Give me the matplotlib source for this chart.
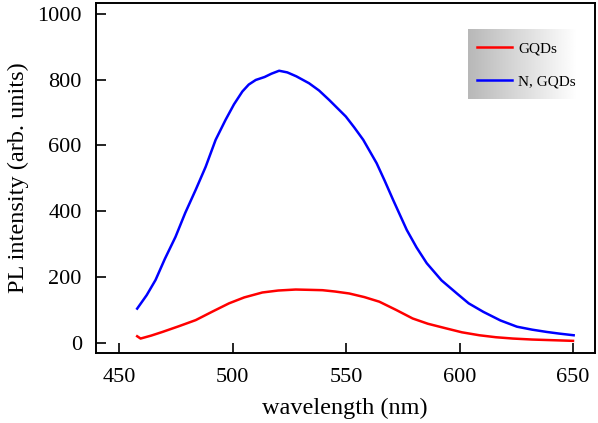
import numpy as np
import matplotlib
matplotlib.use("Agg")
import matplotlib.pyplot as plt

plt.rcParams['font.family'] = ['Liberation Serif', 'DejaVu Serif']

# values
wl_n = [457.8, 462, 465.9, 470, 474.7, 479, 483.6, 488, 492.4, 496.8, 500.5, 504.2,
        507, 510.1, 514, 517, 520.4, 524, 528, 533.6, 538, 542.5, 546, 549.8, 553.5,
        557.5, 563.4, 567, 570.7, 576.7, 581, 585.5, 592, 598.8, 604, 610.5, 618,
        625.3, 632, 638.5, 644, 650.3]
pl_n = [104, 145, 191, 255, 322, 395, 465, 535, 617, 678, 725, 764,
        785, 799, 808, 818, 827, 822, 810, 789, 767, 738, 714, 688, 655,
        617, 546, 492, 434, 343, 290, 242, 190, 150, 120, 94, 68,
        49, 40, 33, 28, 23]

wl_g = [457.8, 459.3, 464, 468.9, 476, 483.6, 491, 498.3, 505, 513, 520, 527.7,
        534, 539.5, 545, 551.3, 558, 564.6, 572, 579.3, 586, 594, 601, 608.7,
        616, 623.5, 632, 641, 650]
pl_g = [20, 13, 22, 33, 50, 69, 95, 120, 138, 153, 159, 162,
        161, 160, 156, 150, 139, 125, 100, 74, 58, 44, 32, 23,
        17, 13, 10, 8, 6]

fig = plt.figure(figsize=(5.98, 4.23), dpi=100)
ax = fig.add_axes([0.16, 0.1662, 0.8342, 0.826])

ax.plot(wl_g, pl_g, color='#ff0000', lw=1.8, label='GQDs')
ax.plot(wl_n, pl_n, color='#0000ff', lw=1.8, label='N, GQDs')

# gradient legend background
grad = np.linspace(0.72, 1.0, 256).reshape(1, -1)
ax.imshow(grad, cmap='gray', vmin=0, vmax=1, aspect='auto',
          extent=[0.7458, 0.9643, 0.726, 0.9256], transform=ax.transAxes, zorder=3)

ax.set_xlim(439.5, 659.5)
ax.set_ylim(-30, 1032)
ax.set_xticks([450, 500, 550, 600, 650])
ax.set_yticks([0, 200, 400, 600, 800, 1000])

ax.tick_params(direction='in', length=7, width=1.2, labelsize=16, top=False, right=False)
ax.tick_params(axis='x', pad=11)
ax.tick_params(axis='y', pad=10)
for s in ax.spines.values():
    s.set_linewidth(1.4)

ax.set_xlabel('wavelength (nm)', fontsize=17.5, labelpad=8)
ax.set_ylabel('PL intensity (arb. units)', fontsize=17.5, labelpad=6)

leg = ax.legend(loc='upper left', bbox_to_anchor=(0.737, 0.93), frameon=False,
                fontsize=11, handlelength=2.3, handletextpad=0.4, labelspacing=1.3)
leg.set_zorder(5)

fig.savefig('out.png', dpi=100)
